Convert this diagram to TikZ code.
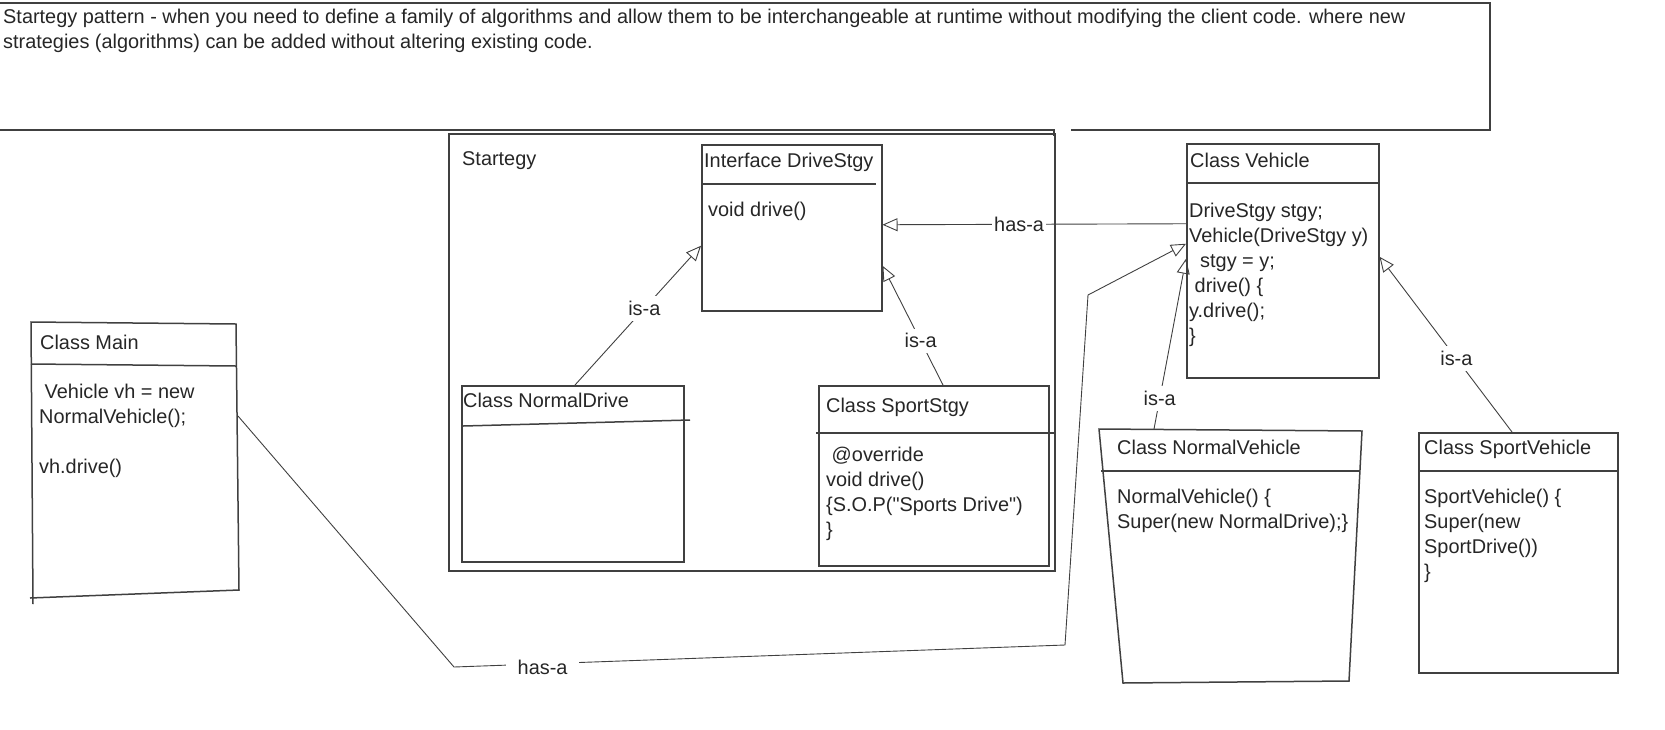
\documentclass[tikz,border=0pt]{standalone}
\usepackage{fontspec}
\setmainfont{Liberation Sans}
\usetikzlibrary{arrows.meta, positioning}

\definecolor{inkgray}{RGB}{64,64,64}
\definecolor{textgray}{RGB}{38,38,38}

\tikzset{
  classbox/.style={draw=inkgray, line width=1.5pt, inner sep=0pt, anchor=north west},
  rule/.style={draw=inkgray, line width=1.5pt},
  headtext/.style={anchor=base west, inner sep=0pt, text=textgray, font=\fontsize{19.9}{25}\selectfont},
  bodytext/.style={headtext, align=left, anchor=north west},
  link/.style={draw=inkgray, line width=0.9pt},
  isa/.style={link, -{Triangle[open, length=15pt, width=13pt, line width=0.9pt]}},
  linklabel/.style={fill=white, inner sep=5pt, text=textgray, font=\fontsize{19.9}{25}\selectfont},
}

\begin{document}
\begin{tikzpicture}[x=1pt, y=-1pt]
    \useasboundingbox (0,0) rectangle (1665,729);
    % description on top
    \draw[rule] (-5,3) -- (1490,3) -- (1490,130) -- (1071,130);
    \draw[rule] (-5,130) -- (1054,130) -- (1054,136);
    \node[bodytext] (desc) at (3,9) {Startegy pattern - when you need to define a family of algorithms and allow them to be interchangeable at runtime without modifying the client code. where new\\strategies (algorithms) can be added without altering existing code.};

    % strategy family
    \node[classbox, minimum width=606pt, minimum height=437pt] (strategyframe) at (448,133) {};
    \node[headtext] (strategytitle) at (462,165) {Startegy};

    \node[classbox, minimum width=180pt, minimum height=166pt] (drivestgy) at (701,144) {};
    \draw[rule] (701,184) -- (876,184);
    \node[headtext] (drivestgytitle) at (704,167) {Interface DriveStgy};
    \node[bodytext] (drivestgybody) at (708,202) {void drive()};

    \node[classbox, minimum width=222pt, minimum height=176pt] (normaldrive) at (461,385) {};
    \draw[rule] (463,426) -- (690,420);
    \node[headtext] (normaldrivetitle) at (463,407) {Class NormalDrive};

    \node[classbox, minimum width=230pt, minimum height=180pt] (sportstgy) at (818,385) {};
    \draw[rule] (816,433) -- (1056,433);
    \node[headtext] (sportstgytitle) at (826,412) {Class SportStgy};
    \node[bodytext] (sportstgybody) at (826,447) {\ @override\\void drive()\\\{S.O.P(\textquotedbl Sports Drive\textquotedbl)\\\}};

    % vehicles
    \node[classbox, minimum width=192pt, minimum height=234pt] (vehicle) at (1186,143) {};
    \draw[rule] (1186,183) -- (1378,183);
    \node[headtext] (vehicletitle) at (1190,167) {Class Vehicle};
    \node[bodytext] (vehiclebody) at (1189,203) {DriveStgy stgy;\\Vehicle(DriveStgy y)\\\hspace{11pt}stgy = y;\\\ drive() \{\\y.drive();\\\}};

    \coordinate (nvtl) at (1099,429);
    \coordinate (nvtr) at (1362,431);
    \coordinate (nvbr) at (1349,681);
    \coordinate (nvbl) at (1123,683);
    \draw[rule] (nvtl) -- (nvtr) -- (nvbr) -- (nvbl) -- cycle;
    \draw[rule] (1101,471) -- (1359,471);
    \node[headtext] (normalvehicletitle) at (1117,454) {Class NormalVehicle};
    \node[bodytext] (normalvehiclebody) at (1117,489) {NormalVehicle() \{\\Super(new NormalDrive);\}};
    \coordinate (nvtop) at (1154,429);

    \node[classbox, minimum width=199pt, minimum height=240pt] (sportvehicle) at (1418,432) {};
    \draw[rule] (1418,471) -- (1617,471);
    \node[headtext] (sportvehicletitle) at (1424,454) {Class SportVehicle};
    \node[bodytext] (sportvehiclebody) at (1424,489) {SportVehicle() \{\\Super(new\\SportDrive())\\\}};

    % client
    \coordinate (maintl) at (31,322);
    \coordinate (maintr) at (236,324);
    \coordinate (mainbr) at (239,590);
    \coordinate (mainbl) at (30,598);
    \draw[rule] (33,604) -- (maintl) -- (maintr) -- (mainbr) -- (mainbl);
    \draw[rule] (31,364) -- (236,366);
    \node[headtext] (maintitle) at (40,349) {Class Main};
    \node[bodytext] (mainbody) at (39,384) {\ Vehicle vh = new\\NormalVehicle();\\[25pt]vh.drive()};
    \coordinate (mainout) at (238,416);

    % relations
    \draw[isa] ([xshift=114pt]normaldrive.north west) -- node[linklabel, pos=0.55] (isanormaldrive) {is-a} ([yshift=-18pt]drivestgy.west);
    \draw[isa] ([xshift=125pt]sportstgy.north west) -- node[linklabel, pos=0.37] (isasportstgy) {is-a} ([yshift=-38pt]drivestgy.east);
    \draw[isa] ([yshift=37pt]vehicle.west) -- node[linklabel, inner sep=2pt, pos=0.55] (hasastgy) {has-a} ([yshift=3pt]drivestgy.east);
    \draw[isa] (nvtop) -- node[linklabel, pos=0.18] (isanormalvehicle) {is-a} ([yshift=2pt]vehicle.west);
    \draw[isa] ([xshift=94pt]sportvehicle.north west) -- node[linklabel, pos=0.42] (isasportvehicle) {is-a} ([yshift=4pt]vehicle.east);
    \draw[isa] (mainout) -- (454,667) -- node[linklabel, pos=0.145, yshift=-4pt, inner xsep=12pt] (hasavehicle) {has-a} (1065,645) -- (1088,295) -- ([yshift=17pt]vehicle.west);
\end{tikzpicture}
\end{document}
